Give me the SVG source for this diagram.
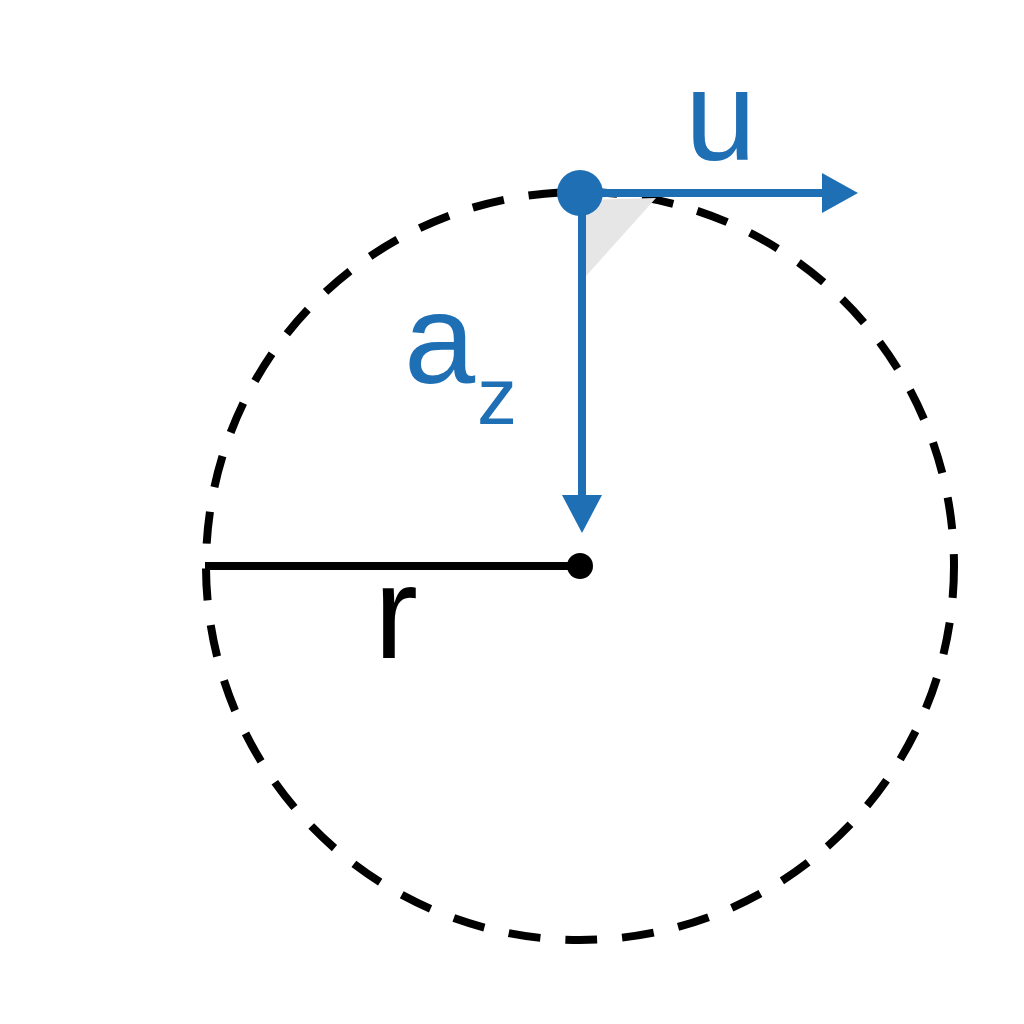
<svg xmlns="http://www.w3.org/2000/svg" width="1024" height="1024" viewBox="0 0 1024 1024">
<defs>
<style>
.blue{fill:#1f6fb5}
.bl{stroke:#1f6fb5;stroke-width:8;fill:none}
.lbl{font-family:"Liberation Sans",Arial,sans-serif}
</style>
</defs>
<rect width="1024" height="1024" fill="#ffffff"/>
<g id="circle">
<circle cx="580" cy="566" r="374" fill="none" stroke="#000" stroke-width="8" stroke-dasharray="32 25"/>
</g>
<g id="angle-marker">
<polygon points="585,200 656,198 586,276" fill="#e6e6e6"/>
</g>
<g id="connectors">
<line x1="205" y1="566" x2="580" y2="566" stroke="#000" stroke-width="8"/>
<line x1="580" y1="193" x2="826" y2="193" class="bl"/>
<polygon points="822,173 858,193 822,213" class="blue"/>
<line x1="582" y1="193" x2="582" y2="498" class="bl"/>
<polygon points="562,495 602,495 582,533" class="blue"/>
</g>
<g id="center">
<circle cx="580" cy="566" r="13" fill="#000"/>
</g>
<g id="point">
<circle cx="580" cy="193" r="23" class="blue"/>
</g>
<g id="labels">
<text x="685" y="160" class="lbl blue" font-size="128">u</text>
<text x="404" y="383" class="lbl blue" font-size="128">a</text>
<text x="477" y="424" class="lbl blue" font-size="80">z</text>
<text x="374" y="658" class="lbl" font-size="132" fill="#000">r</text>
</g>
</svg>
